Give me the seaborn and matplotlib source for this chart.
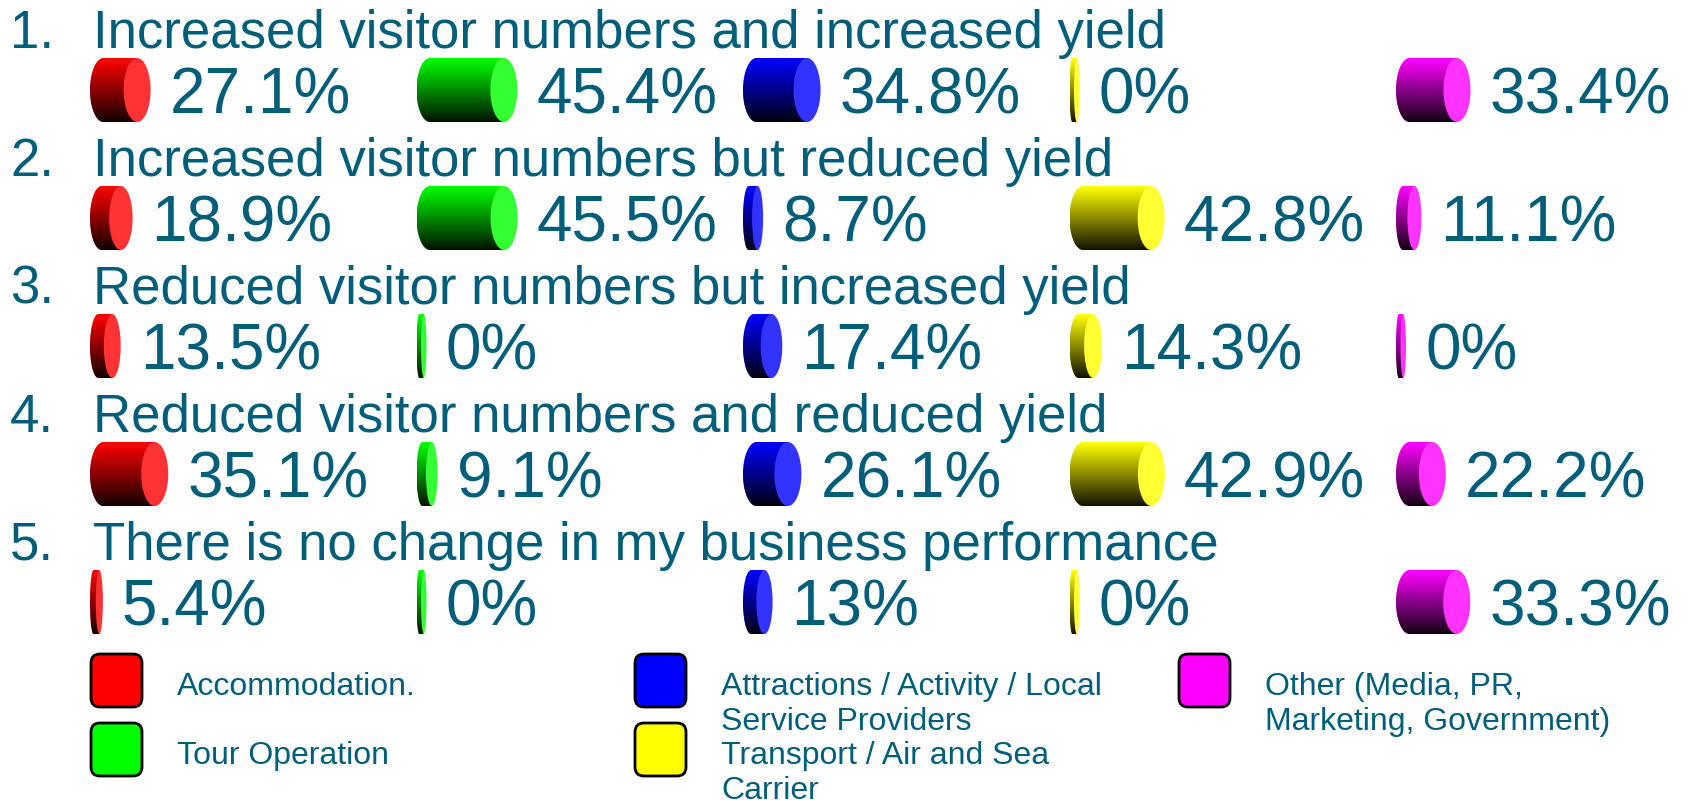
import matplotlib
matplotlib.use("Agg")
import matplotlib.pyplot as plt
import numpy as np
import pandas as pd
import seaborn as sns
from matplotlib.patches import Ellipse, FancyBboxPatch, PathPatch
from matplotlib.path import Path

# Data
statements = [
    "Increased visitor numbers and increased yield",
    "Increased visitor numbers but reduced yield",
    "Reduced visitor numbers but increased yield",
    "Reduced visitor numbers and reduced yield",
    "There is no change in my business performance",
]
categories = [
    "Accommodation.",
    "Tour Operation",
    "Attractions / Activity / Local\nService Providers",
    "Transport / Air and Sea\nCarrier",
    "Other (Media, PR,\nMarketing, Government)",
]
accommodation = [27.1, 18.9, 13.5, 35.1, 5.4]
tour_operation = [45.4, 45.5, 0, 9.1, 0]
attractions = [34.8, 8.7, 17.4, 26.1, 13]
transport = [0, 42.8, 14.3, 42.9, 0]
other = [33.4, 11.1, 0, 22.2, 33.3]
series = [accommodation, tour_operation, attractions, transport, other]

colors = ["#FF0000", "#00FF00", "#0000FF", "#FFFF00", "#FF00FF"]
cap_colors = ["#FF3333", "#33FF33", "#3333FF", "#FFFF33", "#FF33FF"]
TXT = "#005E7A"

sns.set_theme(style="white")
plt.rcParams["font.family"] = ["Liberation Sans", "DejaVu Sans"]

W, H = 1691, 803
fig = plt.figure(figsize=(W / 100, H / 100), dpi=100)
ax = fig.add_axes([0, 0, 1, 1])
ax.set_xlim(0, W)
ax.set_ylim(H, 0)
ax.axis("off")

row_pitch = 128
row_y = 91 + row_pitch * np.arange(len(statements))

# statement titles
for i, s in enumerate(statements):
    base = 48 + row_pitch * i
    ax.text(10, base, f"{i + 1}.", fontsize=38, color=TXT, va="baseline")
    ax.text(93, base, s, fontsize=38, color=TXT, va="baseline")

# cylinders, one axes per category column
col_w = 326.5
col_left = 90 + col_w * np.arange(len(series))
px_per_pct = 2.2

for c, vals in enumerate(series):
    df = pd.DataFrame({"row": row_y, "value": vals})
    df["length"] = np.maximum(10, 1 + px_per_pct * df["value"])
    df["cap"] = np.minimum(27, 0.55 * df["length"])
    df["body"] = df["length"] - df["cap"] / 2

    cax = fig.add_axes([col_left[c] / W, 0, col_w / W, 1])
    sns.barplot(data=df, x="body", y="row", orient="h", native_scale=True,
                width=0.5, color=colors[c], saturation=1, errorbar=None,
                linewidth=0, ax=cax)

    bars = sorted(cax.patches, key=lambda p: p.get_y())
    for bar, (_, r) in zip(bars, df.sort_values("row").iterrows()):
        y0, h = bar.get_y(), bar.get_height()
        yc, b = y0 + h / 2, h / 2
        a = r["cap"] / 2
        body = r["body"]

        # rounded left end + flat body
        th = np.linspace(np.pi / 2, 3 * np.pi / 2, 40)
        verts = list(zip(a + a * np.cos(th), yc - b * np.sin(th)))
        verts += [(body, yc + b), (body, yc - b), (a, yc - b)]
        clip = PathPatch(Path(np.array(verts), closed=True),
                         transform=cax.transData)
        bar.set_clip_path(clip)

        # dark shading towards the bottom
        grad = np.zeros((64, 1, 4))
        grad[:, 0, 3] = np.linspace(0, 0.93, 64)
        im = cax.imshow(grad, extent=[0, body, yc + b, yc - b], origin="upper",
                        aspect="auto", interpolation="bilinear", zorder=3)
        im.set_clip_path(clip)

        # end cap
        cax.add_patch(Ellipse((body, yc), r["cap"], h, facecolor=cap_colors[c],
                              edgecolor="none", zorder=4))

        cax.text(r["length"] + 19, yc + 23, f"{r['value']:g}%", fontsize=46,
                 color=TXT, va="baseline", zorder=5)

    cax.set_xlim(0, col_w)
    cax.set_ylim(H, 0)
    cax.axis("off")

# legend
leg_x = [90, 634, 1178]
leg_top = [654, 723]
for k, (cat, col) in enumerate(zip(categories, colors)):
    x = leg_x[k // 2]
    top = leg_top[k % 2]
    ax.add_patch(FancyBboxPatch((x + 1, top + 1), 51, 53,
                                boxstyle="round,pad=0,rounding_size=9",
                                facecolor=col, edgecolor="black", linewidth=2))
    for j, line in enumerate(cat.split("\n")):
        ax.text(x + 87, top + 41 + 35 * j, line, fontsize=23, color=TXT,
                va="baseline")

fig.savefig("out.png", dpi=100)
